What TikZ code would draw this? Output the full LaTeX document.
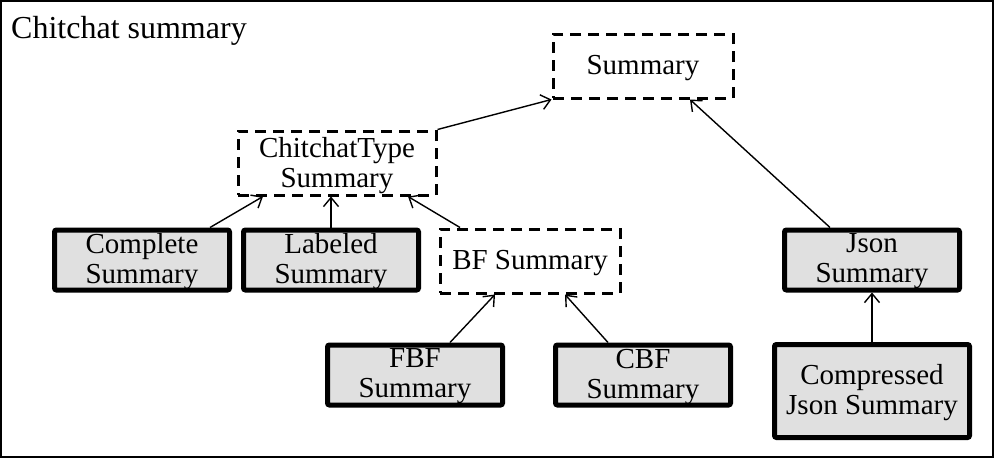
\documentclass[tikz,border=0pt]{standalone}
\usepackage{fontspec}
\setmainfont{Liberation Serif}
\usetikzlibrary{positioning,calc,arrows.meta}

\begin{document}
\begin{tikzpicture}[
  x=1pt, y=-1pt,
  abs/.style={draw, dashed, line width=3pt, dash pattern=on 11pt off 7pt, align=center, minimum width=180pt, minimum height=64pt, inner sep=0pt, text depth=2pt, font=\fontsize{29}{30}\selectfont},
  impl/.style={draw, line width=5pt, rounded corners=2pt, fill=black!12, align=center, minimum width=175pt, minimum height=60pt, inner sep=0pt, text depth=3pt, font=\fontsize{29}{30}\selectfont},
  inh/.style={-{Straight Barb[length=9pt,width=15pt,line width=1.4pt]}, line width=1.4pt},
]
\useasboundingbox (0,0) rectangle (994,458);
\draw[line width=1.5pt] (1,1) rectangle (993,457);
\node[anchor=base west, inner sep=0pt, font=\fontsize{32}{36}\selectfont] (title) at (11,38) {Chitchat summary};

% abstract summaries
\node[abs] (sum) at (643,66) {Summary};
\node[abs, minimum width=198pt] (cct) at (337,163) {ChitchatType\\Summary};
\node[abs] (bf) at (530,261) {BF Summary};

% concrete summaries
\node[impl] (cmp) at (142,260) {Complete\\Summary};
\node[impl] (lab) at (331,260) {Labeled\\Summary};
\node[impl] (json) at (872,260) {Json\\Summary};
\node[impl] (fbf) at (415,375) {FBF\\Summary};
\node[impl] (cbf) at (643,375) {CBF\\Summary};
\node[impl, minimum width=195pt, minimum height=93pt] (cjson) at (872,391) {Compressed\\Json Summary};

\draw[inh] ($(cmp.north)+(68,0)$) -- ($(cct.south)+(-74,0)$);
\draw[inh] (lab.north) -- (lab.north |- cct.south);
\draw[inh] ($(bf.north)+(-70,0)$) -- ($(cct.south)+(71,0)$);
\draw[inh] (cct.north east) -- (sum.south west);
\draw[inh] ($(json.north)+(-42,0)$) -- ($(sum.south)+(47,0)$);
\draw[inh] ($(fbf.north)+(35,0)$) -- ($(bf.south)+(-35,0)$);
\draw[inh] ($(cbf.north)+(-35,0)$) -- ($(bf.south)+(35,0)$);
\draw[inh] (cjson) -- (json);
\end{tikzpicture}
\end{document}
